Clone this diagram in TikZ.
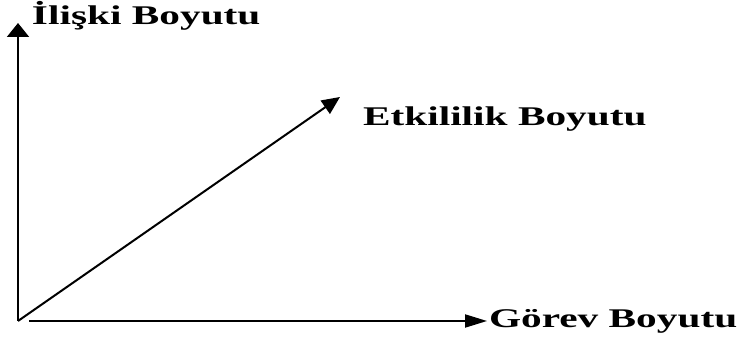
\documentclass[tikz,border=0pt]{standalone}
\usepackage{fontspec}
\setmainfont{Liberation Serif}
\usetikzlibrary{arrows.meta}
\tikzset{
  axis/.style={line width=1pt,draw=black},
  lbl/.style={anchor=base west,inner sep=0pt,outer sep=0pt,
    font=\fontsize{13.5}{16}\selectfont\bfseries},
}
\newcommand{\wide}[1]{\scalebox{1.53}[1]{#1}}

\begin{document}
\begin{tikzpicture}[x=0.5pt,y=-0.5pt]
  \useasboundingbox (0,0) rectangle (738,340);
  % axes
  \coordinate (o) at (18,321);
  \coordinate (ytip) at (18,23);
  \coordinate (xtip) at (487,321);
  \coordinate (dtip) at (340,97);
  \draw[axis,-{Triangle[length=7pt,width=11pt]}] (o) -- (ytip);
  \draw[axis,shorten <=5.5pt,-{Triangle[length=11pt,width=6.5pt]}] (o) -- (xtip);
  \draw[axis,-{Triangle[length=9pt,width=8pt]}] (o) -- (dtip);
  % labels
  \node[lbl] (ylab) at (32,25) {\wide{İlişki Boyutu}};
  \node[lbl] (dlab) at (363,126) {\wide{Etkililik Boyutu}};
  \node[lbl] (xlab) at (489,328) {\wide{Görev Boyutu}};
\end{tikzpicture}
\end{document}
